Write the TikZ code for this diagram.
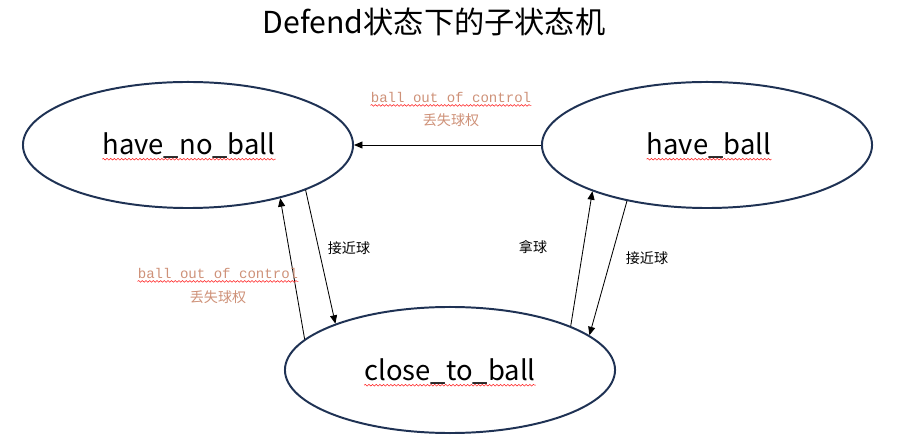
\documentclass[tikz,border=0pt]{standalone}
\usepackage{fontspec}
\setmainfont{Noto Sans CJK SC}
\setmonofont{Liberation Mono}
\usepackage{tikz}
\usetikzlibrary{
    arrows.meta,
    shapes.geometric,
    decorations.pathmorphing
}
\usepackage{xcolor}
\definecolor{statenavy}{RGB}{31,50,84}
\definecolor{codeorange}{RGB}{206,145,120}
\tikzstyle{state} = [
    ellipse,
    draw=statenavy,
    line width=1.4pt,
    minimum width=8.25cm,
    minimum height=3.15cm
]
\tikzstyle{statetext} = [
    inner sep=0pt,
    font=\fontsize{19.5}{23}\selectfont
]
\tikzstyle{code} = [
    inner sep=0pt,
    text=codeorange,
    font=\fontsize{10}{12}\selectfont\ttfamily
]
\tikzstyle{note} = [
    inner sep=0pt,
    font=\fontsize{10}{12}\selectfont
]
\tikzstyle{cnote} = [
    note,
    text=codeorange
]
\tikzstyle{arrow} = [
    -{Triangle[length=6pt,width=5pt]},
    line width=0.6pt,
    draw=black
]
\tikzstyle{squiggle} = [
    draw=red!85,
    line width=0.4pt,
    decorate,
    decoration={snake, amplitude=0.6pt, segment length=2.6pt}
]

\begin{document}
\begin{tikzpicture}[x=0.025cm, y=-0.025cm]
        \useasboundingbox (0,0) rectangle (898,444);

        % title
        \node[font=\fontsize{21.5}{26}\selectfont] (title) at (434,22) {Defend状态下的子状态机};

        % states
        \node[state] (noball) at (188,145) {};
        \node[state] (ball) at (707,145) {};
        \node[state] (close) at (450,370) {};

        \node[statetext] (noballtext) at (189,146) {have\_no\_ball};
        \node[statetext] (balltext) at (709,146) {have\_ball};
        \node[statetext] (closetext) at (450,372) {close\_to\_ball};

        % transitions
        \draw[arrow] (ball.180) -- (noball.0);
        \draw[arrow] (noball.-21) -- (close.158);
        \draw[arrow] (close.168) -- (noball.-30);
        \draw[arrow] (close.20) -- (ball.202);
        \draw[arrow] (ball.215) -- (close.14);

        % transition labels
        \node[code] (lostcodetop) at (451,97) {ball out of control};
        \node[cnote] (losttop) at (451,120) {丢失球权};
        \node[code] (lostcodeleft) at (218,273) {ball out of control};
        \node[cnote] (lostleft) at (218,297) {丢失球权};
        \node[note] (nearleft) at (349,248) {接近球};
        \node[note] (take) at (533,247) {拿球};
        \node[note] (nearright) at (647,258) {接近球};

        % spell-check underlines
        \foreach \t in {noballtext, balltext, closetext}
            \draw[squiggle] ([yshift=-3pt]\t.base west) -- ([yshift=-3pt]\t.base east);
        \foreach \t in {lostcodetop, lostcodeleft}
            \draw[squiggle] ([yshift=-2.4pt]\t.base west) -- ([yshift=-2.4pt]\t.base east);
    \end{tikzpicture}
\end{document}
